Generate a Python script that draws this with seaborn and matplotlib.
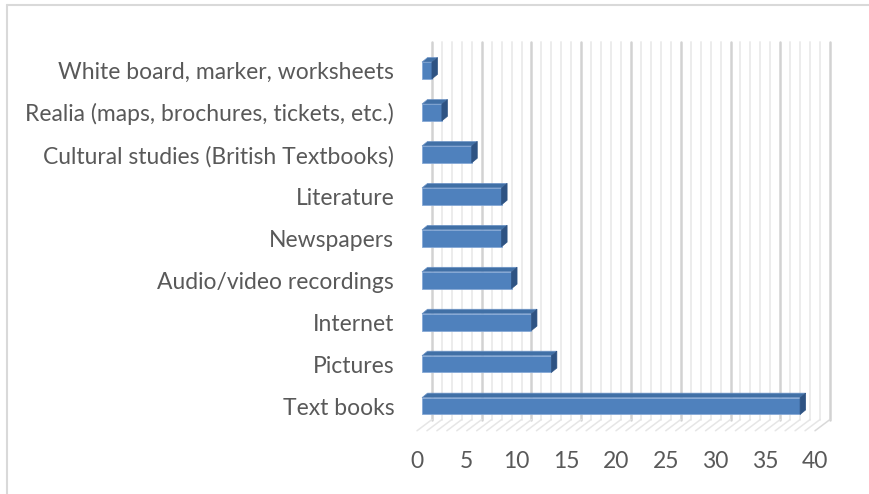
import matplotlib
matplotlib.use("Agg")
import matplotlib.pyplot as plt
import seaborn as sns
import pandas as pd
from matplotlib.patches import Polygon
from matplotlib.lines import Line2D
from matplotlib.transforms import ScaledTranslation

categories = [
    "White board, marker, worksheets",
    "Realia (maps, brochures, tickets, etc.)",
    "Cultural studies (British Textbooks)",
    "Literature",
    "Newspapers",
    "Audio/video recordings",
    "Internet",
    "Pictures",
    "Text books",
]
values = [1, 2, 5, 8, 8, 9, 11, 13, 38]
x_ticks = [0, 5, 10, 15, 20, 25, 30, 35, 40]
x_labels = ["0", "5", "10", "15", "20", "25", "30", "35", "40"]

sns.set_theme(style="white")
plt.rcParams['font.family'] = ['Lato', 'DejaVu Sans']

W, H = 870, 494
fig = plt.figure(figsize=(W / 100, H / 100), dpi=100)
ax_l, ax_r, ax_t, ax_b = 422, 820, 49.5, 427
ax = fig.add_axes([ax_l / W, 1 - ax_b / H, (ax_r - ax_l) / W, (ax_b - ax_t) / H])

df = pd.DataFrame({"cat": categories, "val": values})
sns.barplot(data=df, y="cat", x="val", orient="h", color="#4f81bd", saturation=1,
            width=0.4, ax=ax, edgecolor="#86a9d6", linewidth=0.6, zorder=3)

ax.set_xlim(0, 40)
ax.set_ylim(8.5, -0.5)
n = len(categories)
pxx = (ax_r - ax_l) / 40.0
pxy = (ax_b - ax_t) / (n)


def off(dxp, dyp):
    return dxp / pxx, -dyp / pxy


# back wall gridlines
bdx, bdy = off(10, 7.5)
fdx, fdy = off(-5, -3.75)
for v in range(0, 41):
    major = v % 5 == 0
    c = "#d2d2d2" if major else "#ececec"
    lw = 1.8 if major else 1.4
    ax.add_line(Line2D([v + bdx, v + bdx], [n - 0.5 + bdy, -0.5 + bdy], color=c, lw=lw,
                       zorder=0, clip_on=False))
    ax.add_line(Line2D([v + fdx, v + bdx], [n - 0.5 + fdy, n - 0.5 + bdy],
                       color="#d9d9d9" if v == 40 else "#e6e6e6", lw=1.1, zorder=0, clip_on=False))

# 3D faces of bars
ddx, ddy = off(5.5, 4.5)
hw = 0.2
for i, v in enumerate(values):
    top = Polygon([(0, i - hw), (v, i - hw), (v + ddx, i - hw + ddy), (ddx, i - hw + ddy)],
                  closed=True, facecolor="#4170a6", edgecolor="#6f95c7", lw=0.5, zorder=3, clip_on=False)
    side = Polygon([(v, i - hw), (v + ddx, i - hw + ddy), (v + ddx, i + hw + ddy), (v, i + hw)],
                   closed=True, facecolor="#2e5383", edgecolor="#2e5383", lw=0.5, zorder=3, clip_on=False)
    ax.add_patch(top)
    ax.add_patch(side)

for s in ax.spines.values():
    s.set_visible(False)
ax.set_xlabel("")
ax.set_ylabel("")
ax.set_xticks(x_ticks)
ax.set_xticklabels(x_labels)
ax.tick_params(axis="x", length=0, pad=17, labelsize=16.5, labelcolor="#595959")
ax.tick_params(axis="y", length=0, pad=20, labelsize=16.5, labelcolor="#595959")
for lab in ax.get_xticklabels():
    lab.set_transform(lab.get_transform() + ScaledTranslation(-5 / 100, 0, fig.dpi_scale_trans))
ax.grid(False)
ax.set_facecolor("none")

# chart border (top and left visible)
fig.add_artist(Line2D([7 / W, 1], [1 - 5 / H, 1 - 5 / H], transform=fig.transFigure, color="#d9d9d9", lw=1.5))
fig.add_artist(Line2D([7 / W, 7 / W], [0, 1 - 5 / H], transform=fig.transFigure, color="#d9d9d9", lw=1.5))

fig.savefig("out.png", dpi=100)
